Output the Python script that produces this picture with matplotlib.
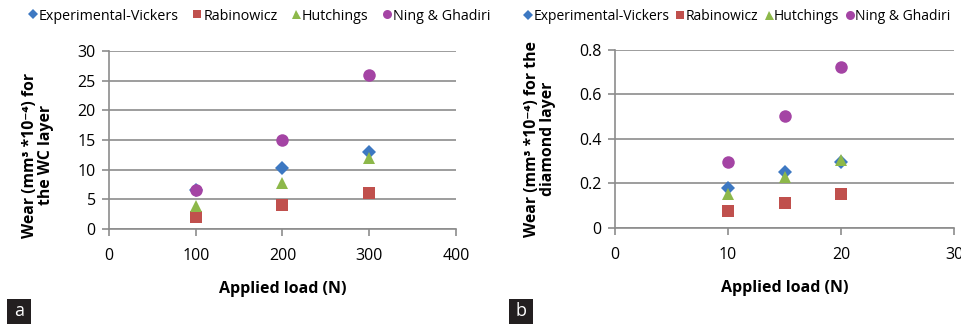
import matplotlib
matplotlib.use("Agg")
import matplotlib.pyplot as plt
import matplotlib.patches as mpatches

plt.rcParams['font.family'] = ['Open Sans', 'DejaVu Sans']

# Panel a: WC layer
load_a = [100, 200, 300]
vickers_a = [6.5, 10.3, 12.9]
rabinowicz_a = [2.0, 4.0, 6.0]
hutchings_a = [3.9, 7.8, 12.0]
ning_a = [6.5, 15.0, 26.0]

# Panel b: diamond layer
load_b = [10, 15, 20]
vickers_b = [0.177, 0.249, 0.297]
rabinowicz_b = [0.076, 0.11, 0.151]
hutchings_b = [0.15, 0.226, 0.304]
ning_b = [0.297, 0.50, 0.72]

series_names = ["Experimental-Vickers", "Rabinowicz", "Hutchings", "Ning & Ghadiri"]
colors = ["#3D78C2", "#C0504D", "#8DB84A", "#A444A4"]
markers = ["D", "s", "^", "o"]
msizes = [7.5, 8, 9, 9]

fig = plt.figure(figsize=(9.62, 3.24), dpi=100)
ax_a = fig.add_axes([0.1133, 0.2932, 0.3607, 0.5494])
ax_b = fig.add_axes([0.6393, 0.2972, 0.3524, 0.55])

gray = "#8C8C8C"

def style(ax, xlim, xticks, ylim, yticks, yfmt, ylabel):
    ax.set_xlim(*xlim)
    ax.set_ylim(*ylim)
    ax.set_xticks(xticks)
    ax.set_yticks(yticks)
    ax.set_yticklabels([yfmt(v) for v in yticks])
    ax.yaxis.grid(True, color=gray, linewidth=1.2)
    ax.set_axisbelow(True)
    for s in ["top", "right"]:
        ax.spines[s].set_visible(False)
    for s in ["left", "bottom"]:
        ax.spines[s].set_color(gray)
        ax.spines[s].set_linewidth(1.2)
    ax.tick_params(axis="both", colors=gray, labelcolor="black", labelsize=11.5,
                   length=5, width=1.2, direction="out")
    ax.tick_params(axis="x", pad=9)
    ax.tick_params(axis="y", pad=4.5)
    ax.set_xlabel("Applied load (N)", fontsize=11.5, fontweight="bold", labelpad=12)
    ax.set_ylabel(ylabel, fontsize=11.3, fontweight="bold", linespacing=1.0)
    for lab in ax.get_xticklabels() + ax.get_yticklabels():
        lab.set_clip_on(False)

def plot_series(ax, x, ys):
    handles = []
    for y, c, m, ms, n in zip(ys, colors, markers, msizes, series_names):
        h, = ax.plot(x, y, linestyle="none", marker=m, color=c, markersize=ms,
                     markeredgewidth=0, label=n, clip_on=False, zorder=3)
        handles.append(h)
    return handles

h = plot_series(ax_a, load_a, [vickers_a, rabinowicz_a, hutchings_a, ning_a])
plot_series(ax_b, load_b, [vickers_b, rabinowicz_b, hutchings_b, ning_b])

style(ax_a, (0, 400), [0, 100, 200, 300, 400], (0, 30), [0, 5, 10, 15, 20, 25, 30],
      lambda v: f"{v:g}", "Wear (mm³ *10⁻⁴) for\nthe WC layer")
style(ax_b, (0, 30), [0, 10, 20, 30], (0, 0.8), [0, 0.2, 0.4, 0.6, 0.8],
      lambda v: "0" if v == 0 else f"{v:.1f}", "Wear (mm³ *10⁻⁴) for the\ndiamond layer")

ax_a.yaxis.set_label_coords(-0.158, 0.416)
ax_b.yaxis.set_label_coords(-0.174, 0.5)

leg_kw = dict(ncol=4, frameon=False, handletextpad=0.1,
              handlelength=0.6, borderaxespad=0, borderpad=0, markerscale=0.72)
fig.legend(handles=h, loc="center left", bbox_to_anchor=(28.8 / 962, 1 - 16 / 324),
           columnspacing=1.0, fontsize=10.3, **leg_kw)
fig.legend(handles=h, loc="center left", bbox_to_anchor=(523.8 / 962, 1 - 16 / 324),
           columnspacing=0.45, fontsize=10.0, **leg_kw)

# panel letters
for x0, letter in [(7, "a"), (509, "b")]:
    fig.patches.append(mpatches.Rectangle((x0 / 962, 0), 24 / 962, 25 / 324,
                                          transform=fig.transFigure,
                                          facecolor="#231F20", edgecolor="none"))
    fig.text((x0 + 12) / 962, 12.5 / 324, letter, color="white", fontsize=13,
             ha="center", va="center")

fig.savefig("out.png", dpi=100)
